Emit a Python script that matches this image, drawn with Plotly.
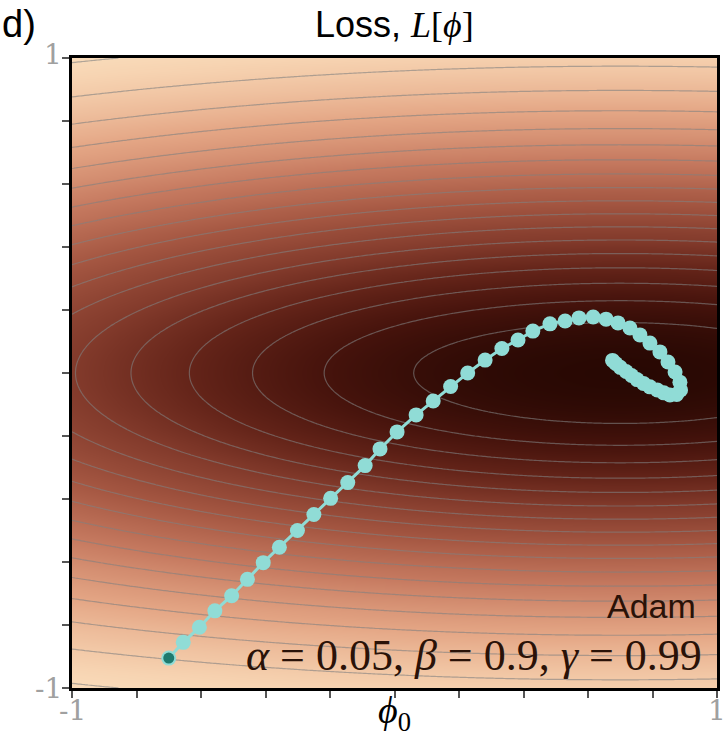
import numpy as np
import plotly.graph_objects as go

# ---- Loss surface (elliptical bowl) ----
min_phi0 = 0.7      # centre of the darkest region
min_phi1 = 0.0
width_phi0 = 2.0    # horizontal spread of the ellipses
width_phi1 = 0.5    # vertical spread
grid_n = 201

# ---- Adam trajectory ----
path_phi0 = [-0.70, -0.655, -0.605, -0.557, -0.505, -0.456, -0.407, -0.357, -0.301, -0.250,
             -0.198, -0.145, -0.091, -0.045, 0.008, 0.067, 0.120, 0.174, 0.227, 0.281,
             0.333, 0.383, 0.429, 0.482, 0.529, 0.572, 0.616, 0.656, 0.693, 0.730,
             0.761, 0.792, 0.823, 0.848, 0.870, 0.885, 0.887, 0.875, 0.854, 0.835,
             0.815, 0.792, 0.772, 0.752, 0.735, 0.718, 0.700, 0.686, 0.676]
path_phi1 = [-0.905, -0.855, -0.807, -0.755, -0.707, -0.655, -0.602, -0.553, -0.500, -0.449,
             -0.398, -0.348, -0.294, -0.241, -0.187, -0.133, -0.089, -0.043, 0.000, 0.041,
             0.078, 0.105, 0.133, 0.156, 0.165, 0.175, 0.178, 0.171, 0.159, 0.143,
             0.121, 0.095, 0.067, 0.035, 0.003, -0.029, -0.054, -0.068, -0.070, -0.063,
             -0.054, -0.044, -0.033, -0.021, -0.008, 0.005, 0.018, 0.030, 0.040]

tick_vals = [-1, -0.8, -0.6, -0.4, -0.2, 0, 0.2, 0.4, 0.6, 0.8, 1]
label_vals = [-1, 1]
label_text = ["-1", "1"]

colorscale = [
    [0.00, "rgb(40,8,3)"],
    [0.10, "rgb(70,19,12)"],
    [0.20, "rgb(100,36,25)"],
    [0.30, "rgb(130,58,43)"],
    [0.45, "rgb(165,87,66)"],
    [0.60, "rgb(198,122,96)"],
    [0.75, "rgb(228,166,133)"],
    [0.88, "rgb(247,212,178)"],
    [1.00, "rgb(255,246,214)"],
]

g = np.linspace(-1, 1, grid_n)
P0, P1 = np.meshgrid(g, g)
loss = 1.0 - np.exp(-0.5 * ((P1 - min_phi1) / width_phi1) ** 2) * \
    np.exp(-0.5 * ((P0 - min_phi0) / width_phi0) ** 2)

fig = go.Figure()
fig.add_trace(go.Heatmap(x=g, y=g, z=loss, colorscale=colorscale, zmin=0, zmax=1,
                         zsmooth="best", showscale=False, hoverinfo="skip"))
fig.add_trace(go.Contour(x=g, y=g, z=loss, showscale=False, hoverinfo="skip",
                         contours=dict(coloring="none", start=0.05, end=0.95, size=0.05),
                         line=dict(color="rgba(128,128,128,0.6)", width=1.2)))
fig.add_trace(go.Scatter(x=path_phi0, y=path_phi1, mode="lines+markers",
                         line=dict(color="#90dcd6", width=3),
                         marker=dict(color="#90dcd6", size=15), hoverinfo="skip"))
fig.add_trace(go.Scatter(x=path_phi0[:1], y=path_phi1[:1], mode="markers",
                         marker=dict(color="#1e7a6e", size=11), hoverinfo="skip"))

axis_common = dict(range=[-1, 1], tickvals=tick_vals, showticklabels=False,
                   ticks="outside", ticklen=7, tickwidth=2, tickcolor="#555555",
                   showgrid=False, zeroline=False, showline=True, linecolor="black",
                   linewidth=3, mirror=True, automargin=False)

tick_font = dict(family="DejaVu Serif", size=28, color="#a0a0a0")
annotations = [
    dict(text="Loss, <span style='font-family:Liberation Serif'><i>L</i>[<i>ϕ</i>]</span>",
         x=0.5, y=1.0, xref="paper", yref="paper", xanchor="center", yanchor="bottom",
         yshift=11, showarrow=False,
         font=dict(family="Liberation Sans", size=36, color="black")),
    dict(text="d)", x=-72 / 645, y=1 + 34 / 630, xref="paper", yref="paper",
         xanchor="left", yanchor="middle", showarrow=False,
         font=dict(family="Liberation Sans", size=38, color="black")),
    dict(text="Adam", x=0.971, y=0.130, xref="paper", yref="paper",
         xanchor="right", yanchor="middle", showarrow=False,
         font=dict(family="Liberation Sans", size=34, color="#2a1208")),
    dict(text="<i>α</i> = 0.05, <i>β</i> = 0.9, <i>γ</i> = 0.99",
         x=0.980, y=0.052, xref="paper", yref="paper",
         xanchor="right", yanchor="middle", showarrow=False,
         font=dict(family="Liberation Serif", size=44, color="#2a1208")),
]
for v, t in zip(label_vals, label_text):
    annotations.append(dict(text=t, x=v, xref="x", y=0, yref="paper",
                            xanchor="center", yanchor="top", yshift=-4,
                            showarrow=False, font=tick_font))
    annotations.append(dict(text=t, x=0, xref="paper", y=v, yref="y",
                            xanchor="right", yanchor="middle", xshift=-8,
                            yshift=(4 if v > 0 else 0),
                            showarrow=False, font=tick_font))

fig.update_layout(
    width=726, height=740,
    margin=dict(l=72, r=9, t=58, b=52, autoexpand=False),
    paper_bgcolor="white", plot_bgcolor="white",
    showlegend=False,
    xaxis=dict(**axis_common,
               title=dict(text="<i>ϕ</i><sub>0</sub>", standoff=0,
                          font=dict(family="Liberation Serif", size=38, color="black"))),
    yaxis=dict(**axis_common),
    annotations=annotations,
)

fig.write_html("out.html")
